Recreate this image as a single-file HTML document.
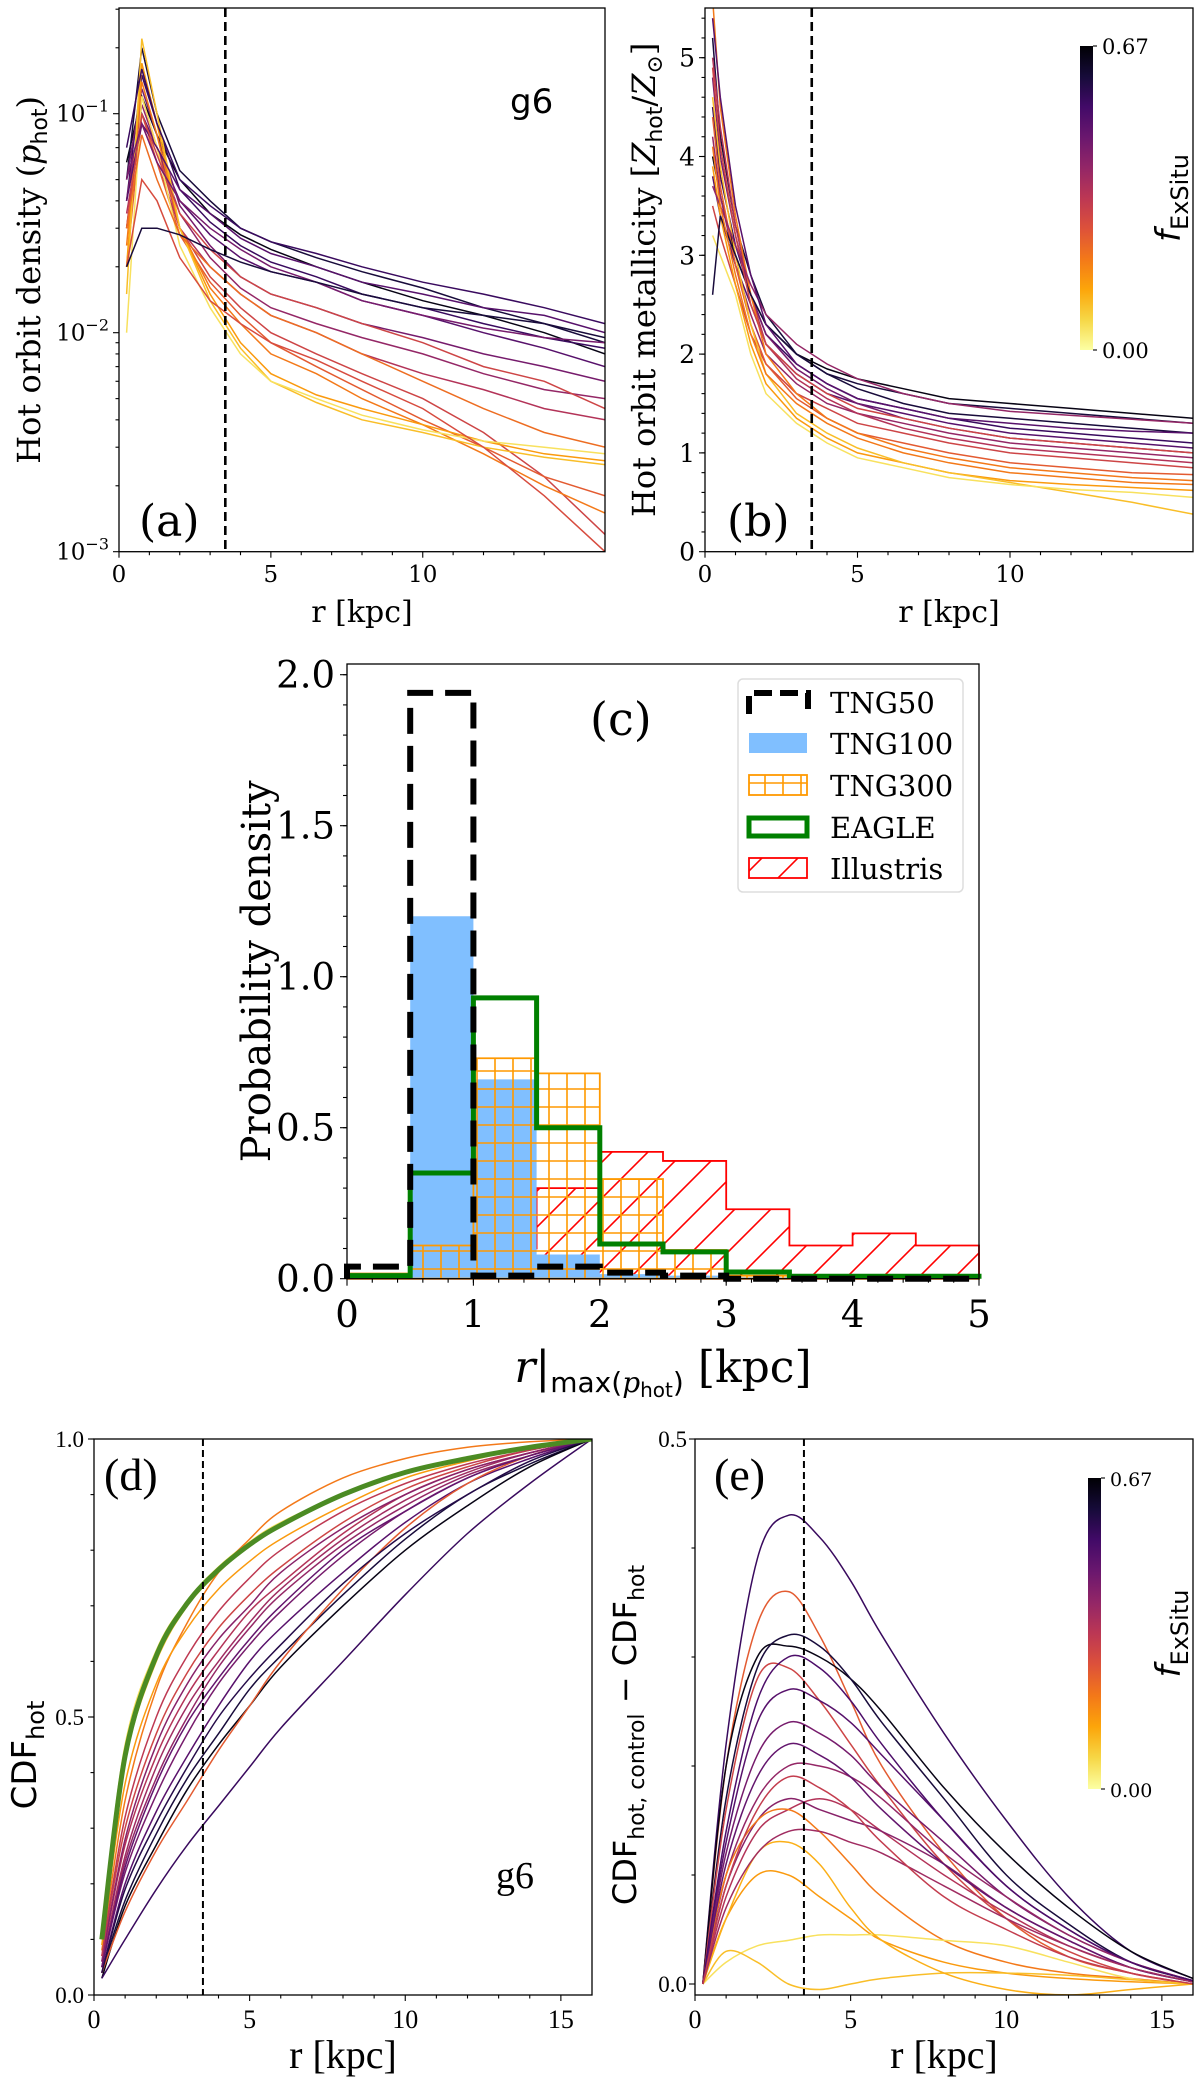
<!DOCTYPE html>
<html><head><meta charset="utf-8"><style>
html,body{margin:0;padding:0;background:#fff;}
svg{display:block;}
.serif{font-family:"DejaVu Serif","Liberation Serif",serif;}
.sans{font-family:"DejaVu Sans","Liberation Sans",sans-serif;}
.times{font-family:"Liberation Serif","DejaVu Serif",serif;}
</style></head><body>
<svg id="fig" xmlns="http://www.w3.org/2000/svg" width="1200" height="2078" viewBox="0 0 1200 2078">
<defs>
<linearGradient id="cbgrad" x1="0" y1="1" x2="0" y2="0">
<stop offset="0" stop-color="#fcffa4"/><stop offset="0.1" stop-color="#f6d746"/><stop offset="0.2" stop-color="#fca50a"/><stop offset="0.3" stop-color="#f37819"/><stop offset="0.4" stop-color="#dd513a"/><stop offset="0.5" stop-color="#bc3754"/><stop offset="0.6" stop-color="#932667"/><stop offset="0.7" stop-color="#6a176e"/><stop offset="0.8" stop-color="#420a68"/><stop offset="0.9" stop-color="#160b39"/><stop offset="1" stop-color="#000004"/>
</linearGradient>
<pattern id="gridHatch" patternUnits="userSpaceOnUse" width="18" height="18"><path d="M9 0V18M0 9H18" stroke="#ff9900" stroke-width="1.6"/></pattern>
<pattern id="slashHatch" patternUnits="userSpaceOnUse" width="36" height="36"><path d="M-9 45L45 -9M-9 9L9 -9M27 45L45 27" stroke="#ff0000" stroke-width="1.6"/></pattern>
<clipPath id="clipA"><rect x="119" y="8" width="486" height="544"/></clipPath>
<clipPath id="clipB"><rect x="705" y="8" width="488" height="544"/></clipPath>
<clipPath id="clipD"><rect x="94" y="1439" width="498" height="556"/></clipPath>
<clipPath id="clipE"><rect x="695" y="1439" width="498" height="556"/></clipPath>
</defs>
</svg>
<script>
// ---------- DATA ----------
const rA = [0.25,0.75,1.25,2,3,4,5,6.5,8,10,12,14,16];
const fA = [0.65,0.6,0.55,0.5,0.45,0.4,0.35,0.3,0.25,0.2,0.15,0.1,0.05,0.55,0.5,0.3,0.28,0.22,0.45,0.6];
const densA = [
[0.06,0.12,0.08,0.05,0.035,0.028,0.024,0.020,0.017,0.014,0.012,0.010,0.008],
[0.05,0.20,0.10,0.055,0.04,0.03,0.026,0.022,0.019,0.016,0.013,0.011,0.009],
[0.04,0.15,0.09,0.045,0.032,0.025,0.021,0.018,0.015,0.013,0.011,0.0095,0.0085],
[0.03,0.10,0.07,0.04,0.028,0.022,0.019,0.017,0.014,0.012,0.010,0.0085,0.007],
[0.05,0.13,0.08,0.038,0.025,0.018,0.015,0.013,0.011,0.0095,0.008,0.007,0.006],
[0.04,0.11,0.07,0.035,0.022,0.016,0.013,0.011,0.0095,0.008,0.0065,0.0055,0.005],
[0.035,0.09,0.06,0.03,0.02,0.015,0.012,0.01,0.008,0.0065,0.0055,0.0045,0.004],
[0.03,0.12,0.07,0.03,0.018,0.013,0.01,0.008,0.0065,0.005,0.0035,0.0022,0.0012],
[0.02,0.10,0.06,0.028,0.017,0.012,0.009,0.007,0.0055,0.004,0.003,0.0022,0.0018],
[0.025,0.14,0.08,0.03,0.016,0.011,0.008,0.0065,0.005,0.0038,0.0028,0.002,0.0015],
[0.02,0.17,0.09,0.03,0.015,0.009,0.0065,0.0052,0.0045,0.0038,0.0032,0.0028,0.0026],
[0.015,0.22,0.1,0.03,0.014,0.0085,0.006,0.0048,0.004,0.0035,0.003,0.0027,0.0025],
[0.01,0.12,0.07,0.025,0.013,0.008,0.006,0.005,0.0042,0.0036,0.0032,0.003,0.0028],
[0.07,0.16,0.09,0.05,0.038,0.03,0.026,0.023,0.02,0.017,0.015,0.013,0.011],
[0.04,0.09,0.07,0.045,0.035,0.027,0.023,0.02,0.017,0.015,0.013,0.012,0.01],
[0.03,0.1,0.065,0.035,0.024,0.018,0.015,0.013,0.011,0.009,0.007,0.006,0.0045],
[0.02,0.05,0.04,0.022,0.014,0.011,0.009,0.0075,0.006,0.0045,0.003,0.0018,0.001],
[0.03,0.08,0.05,0.028,0.02,0.015,0.012,0.01,0.008,0.006,0.0045,0.0035,0.003],
[0.05,0.09,0.06,0.04,0.03,0.024,0.02,0.017,0.014,0.012,0.0105,0.0095,0.009],
[0.02,0.03,0.03,0.028,0.024,0.021,0.019,0.017,0.015,0.013,0.012,0.011,0.0095]
];
const ticksA = ["10","10","10"];
const rB = [0.25,0.5,1,1.5,2,3,4,5,6.5,8,10,12,14,16];
const fB = [0.65,0.6,0.55,0.5,0.45,0.4,0.35,0.3,0.25,0.2,0.15,0.1,0.05,0.6,0.3,0.4,0.2,0.5];
const metB = [
[4.0,3.6,3.0,2.6,2.3,2.0,1.85,1.75,1.65,1.55,1.5,1.45,1.4,1.35],
[5.2,4.2,3.3,2.8,2.4,2.0,1.8,1.65,1.5,1.4,1.35,1.3,1.25,1.2],
[4.5,3.8,3.1,2.6,2.2,1.9,1.7,1.55,1.45,1.35,1.25,1.2,1.15,1.1],
[3.8,3.4,2.9,2.5,2.1,1.8,1.6,1.5,1.4,1.3,1.2,1.15,1.1,1.05],
[4.8,4.0,3.2,2.6,2.2,1.85,1.65,1.5,1.35,1.25,1.15,1.1,1.05,1.0],
[4.2,3.6,2.9,2.4,2.0,1.7,1.5,1.4,1.3,1.2,1.1,1.05,1.0,0.95],
[5.0,4.3,3.3,2.6,2.1,1.75,1.55,1.4,1.25,1.15,1.05,1.0,0.95,0.9],
[3.5,3.2,2.7,2.2,1.9,1.6,1.45,1.3,1.2,1.1,1.0,0.95,0.9,0.85],
[4.4,3.7,2.9,2.3,1.9,1.55,1.35,1.2,1.1,1.0,0.9,0.85,0.8,0.78],
[5.6,4.5,3.4,2.6,2.0,1.6,1.35,1.2,1.05,0.95,0.85,0.8,0.75,0.72],
[3.9,3.4,2.7,2.1,1.7,1.35,1.15,1.0,0.9,0.8,0.72,0.68,0.65,0.62],
[4.6,3.9,3.0,2.3,1.8,1.4,1.2,1.05,0.9,0.8,0.7,0.6,0.5,0.38],
[3.2,3.0,2.6,2.0,1.6,1.3,1.1,0.95,0.85,0.75,0.68,0.63,0.6,0.55],
[2.6,3.4,3.0,2.6,2.3,2.0,1.8,1.7,1.6,1.5,1.45,1.4,1.35,1.3],
[4.9,4.1,3.2,2.5,2.1,1.8,1.6,1.45,1.35,1.25,1.15,1.1,1.05,1.0],
[3.7,3.5,3.1,2.7,2.4,2.1,1.9,1.75,1.6,1.5,1.42,1.38,1.34,1.3],
[4.1,3.5,2.8,2.2,1.8,1.5,1.3,1.15,1.0,0.9,0.8,0.75,0.7,0.68],
[5.4,4.6,3.5,2.8,2.3,1.9,1.7,1.55,1.45,1.35,1.3,1.25,1.22,1.2]
];
const binEdges = [0,0.5,1,1.5,2,2.5,3,3.5,4,4.5,5];
const tng50 = [0.04,1.94,0.01,0.04,0.02,0.01,0,0,0,0];
const tng100 = [0.02,1.20,0.66,0.08,0.015,0.01,0.005,0.005,0.005,0.005];
const tng300 = [0.017,0.11,0.73,0.68,0.33,0.095,0.01,0.01,0.01,0.01];
const eagle = [0.01,0.35,0.93,0.50,0.115,0.089,0.022,0.008,0.008,0.008];
const illustris = [0,0,0.10,0.30,0.42,0.39,0.23,0.11,0.15,0.11];
const legendLabels = ["TNG50","TNG100","TNG300","EAGLE","Illustris"];
const rD = [0.25,1,2,3,4,5,6,8,10,12,14,16];
const fD = [0.05,0.1,0.2,0.15,0.3,0.35,0.4,0.45,0.5,0.6,0.65,0.55,0.25,0.38,0.42,0.48,0.33,0.58];
const cdfD = [
[0.12,0.45,0.62,0.71,0.77,0.815,0.85,0.9,0.94,0.965,0.985,1],
[0.1,0.42,0.6,0.7,0.76,0.81,0.845,0.9,0.94,0.965,0.985,1],
[0.08,0.35,0.55,0.67,0.76,0.82,0.87,0.93,0.965,0.985,0.995,1],
[0.09,0.38,0.56,0.66,0.73,0.78,0.82,0.88,0.93,0.96,0.985,1],
[0.07,0.3,0.47,0.58,0.66,0.72,0.77,0.85,0.91,0.95,0.98,1],
[0.06,0.27,0.43,0.54,0.62,0.69,0.74,0.83,0.9,0.945,0.975,1],
[0.05,0.24,0.39,0.5,0.59,0.66,0.72,0.81,0.88,0.935,0.97,1],
[0.05,0.22,0.36,0.47,0.56,0.63,0.69,0.79,0.87,0.93,0.97,1],
[0.04,0.2,0.33,0.43,0.52,0.6,0.66,0.76,0.85,0.92,0.965,1],
[0.04,0.17,0.29,0.39,0.47,0.55,0.61,0.72,0.82,0.9,0.955,1],
[0.03,0.16,0.27,0.37,0.45,0.52,0.59,0.7,0.8,0.88,0.95,1],
[0.03,0.1,0.19,0.27,0.34,0.41,0.48,0.6,0.72,0.83,0.92,1],
[0.04,0.15,0.26,0.35,0.44,0.52,0.6,0.73,0.84,0.92,0.97,1],
[0.05,0.25,0.41,0.52,0.6,0.67,0.73,0.82,0.89,0.94,0.975,1],
[0.06,0.28,0.45,0.56,0.64,0.7,0.76,0.84,0.9,0.945,0.975,1],
[0.05,0.23,0.38,0.49,0.57,0.64,0.7,0.8,0.87,0.93,0.97,1],
[0.07,0.32,0.5,0.61,0.69,0.75,0.8,0.87,0.92,0.955,0.98,1],
[0.04,0.19,0.31,0.41,0.5,0.57,0.63,0.74,0.83,0.9,0.96,1]
];
const cdfControl = [0.1,0.43,0.61,0.705,0.765,0.81,0.845,0.9,0.94,0.965,0.985,1];
const rE = [0.25,1,2,3,4,5,6,8,10,12,14,16];
const fE = [0.55,0.25,0.65,0.6,0.3,0.5,0.45,0.4,0.35,0.42,0.2,0.15,0.05,0.1,0.12,0.48,0.38,0.52,0.32];
const diffE = [
[0,0.22,0.39,0.43,0.41,0.37,0.32,0.23,0.15,0.08,0.03,0.005],
[0,0.2,0.33,0.36,0.32,0.26,0.2,0.12,0.06,0.025,0.01,0],
[0,0.2,0.3,0.31,0.3,0.28,0.25,0.18,0.12,0.07,0.03,0.005],
[0,0.17,0.29,0.32,0.31,0.28,0.24,0.17,0.1,0.055,0.02,0.003],
[0,0.16,0.28,0.29,0.26,0.22,0.18,0.11,0.06,0.03,0.01,0],
[0,0.13,0.24,0.27,0.26,0.24,0.21,0.15,0.09,0.05,0.02,0.003],
[0,0.12,0.21,0.24,0.23,0.21,0.18,0.13,0.08,0.045,0.02,0.003],
[0,0.1,0.17,0.2,0.2,0.19,0.17,0.12,0.08,0.045,0.02,0.003],
[0,0.08,0.14,0.16,0.17,0.16,0.14,0.1,0.065,0.035,0.015,0.002],
[0,0.09,0.15,0.17,0.16,0.15,0.14,0.11,0.07,0.04,0.015,0.002],
[0,0.1,0.15,0.16,0.14,0.11,0.08,0.04,0.02,0.01,0.005,0],
[0,0.06,0.1,0.1,0.08,0.06,0.04,0.02,0.01,0.005,0.002,0],
[0,0.02,0.035,0.04,0.045,0.045,0.045,0.04,0.035,0.02,0.005,0],
[0,0.03,0.02,0.0,-0.005,0.0,0.005,0.01,0.01,0.008,0.004,0],
[0,0.06,0.12,0.13,0.11,0.07,0.04,0.01,-0.005,-0.01,-0.005,0],
[0,0.11,0.19,0.22,0.21,0.19,0.16,0.11,0.07,0.04,0.015,0.002],
[0,0.07,0.12,0.14,0.14,0.13,0.12,0.09,0.06,0.035,0.015,0.002],
[0,0.14,0.26,0.3,0.29,0.26,0.22,0.15,0.09,0.05,0.02,0.003],
[0,0.09,0.16,0.19,0.18,0.16,0.13,0.08,0.05,0.025,0.01,0]
];
const fMax = 0.67;

// ---------- HELPERS ----------
const NS="http://www.w3.org/2000/svg";
const svg=document.getElementById('fig');
function mk(tag,attrs,parent,text){const e=document.createElementNS(NS,tag);for(const k in attrs)e.setAttribute(k,attrs[k]);if(text!==undefined)e.textContent=text;(parent||svg).appendChild(e);return e;}
const inf=[[0,0,4],[22,11,57],[66,10,104],[106,23,110],[147,38,103],[188,55,84],[221,81,58],[243,120,25],[252,165,10],[246,215,70],[252,255,164]];
function inferno(t){t=Math.max(0,Math.min(1,t));const s=t*10,i=Math.min(9,Math.floor(s)),u=s-i;const a=inf[i],b=inf[i+1];return`rgb(${Math.round(a[0]+(b[0]-a[0])*u)},${Math.round(a[1]+(b[1]-a[1])*u)},${Math.round(a[2]+(b[2]-a[2])*u)})`;}
function col(f){return inferno(1-f/fMax);}
function smoothPath(pts){let d=`M${pts[0][0].toFixed(1)},${pts[0][1].toFixed(1)}`;for(let i=0;i<pts.length-1;i++){const p0=pts[Math.max(0,i-1)],p1=pts[i],p2=pts[i+1],p3=pts[Math.min(pts.length-1,i+2)];const c1=[p1[0]+(p2[0]-p0[0])/6,p1[1]+(p2[1]-p0[1])/6],c2=[p2[0]-(p3[0]-p1[0])/6,p2[1]-(p3[1]-p1[1])/6];d+=`C${c1[0].toFixed(1)},${c1[1].toFixed(1)} ${c2[0].toFixed(1)},${c2[1].toFixed(1)} ${p2[0].toFixed(1)},${p2[1].toFixed(1)}`;}return d;}
function linePath(pts){return pts.map((p,i)=>(i?'L':'M')+p[0].toFixed(1)+','+p[1].toFixed(1)).join('');}
function frame(g,x0,y0,x1,y1){const r=mk('rect',{x:x0,y:y0,width:x1-x0,height:y1-y0,fill:'none',stroke:'#000','stroke-width':1.3},g);}
function tick(g,x1,y1,x2,y2){mk('line',{x1,y1,x2,y2,stroke:'#000','stroke-width':1.1},g);}

// ---------- PANEL A ----------
const axA={x0:119,x1:605,top:8,bot:551.7,dec:219};
const xA=r=>axA.x0+r*(axA.x1-axA.x0)/16;
const yA=v=>axA.bot-(Math.log10(v)+3)*axA.dec;
const gA=mk('g',{});
const gAl=mk('g',{'clip-path':'url(#clipA)'},gA);
densA.forEach((row,i)=>{const p=mk('path',{d:linePath(row.map((v,j)=>[xA(rA[j]),yA(v)])),fill:'none',stroke:col(fA[i]),'stroke-width':1.5},gAl);});
mk('line',{x1:xA(3.5),y1:axA.top,x2:xA(3.5),y2:axA.bot,stroke:'#000','stroke-width':2.6,'stroke-dasharray':'9,5'},gA);
frame(gA,axA.x0,axA.top,axA.x1,axA.bot);
[-3,-2,-1].forEach((e,i)=>{const y=yA(Math.pow(10,e));tick(gA,axA.x0-6,y,axA.x0,y);const t=mk('text',{x:axA.x0-10,y:y+8,'text-anchor':'end','font-size':23,class:'serif'},gA);mk('tspan',{},t,ticksA[i]);mk('tspan',{dy:-10,'font-size':16},t,'−'+(-e));});
for(let e=-3;e<0;e++)for(let m=2;m<10;m++){const y=yA(m*Math.pow(10,e));if(y>=axA.top)tick(gA,axA.x0-3.5,y,axA.x0,y);}
[0,5,10].forEach(v=>{tick(gA,xA(v),axA.bot,xA(v),axA.bot+6);const t=mk('text',{x:xA(v),y:582,'text-anchor':'middle','font-size':23,class:'serif'},gA,String(v));});
for(let v=1;v<16;v++)if(v%5)tick(gA,xA(v),axA.bot,xA(v),axA.bot+3.5);
let t;
t=mk('text',{x:xA(8),y:622,'text-anchor':'middle','font-size':30,class:'serif'},gA,'r [kpc]');
t=mk('text',{x:0,y:0,'text-anchor':'middle','font-size':32,class:'serif',transform:`translate(40,${(axA.top+axA.bot)/2}) rotate(-90)`},gA);
mk('tspan',{},t,'Hot orbit density (');mk('tspan',{'font-style':'italic'},t,'p');mk('tspan',{dy:7,'font-size':22,class:'sans'},t,'hot');mk('tspan',{dy:-7},t,')');
t=mk('text',{x:139,y:536,'font-size':44,class:'serif'},gA,'(a)');
t=mk('text',{x:510,y:113,'font-size':34,class:'sans'},gA,'g6');

// ---------- PANEL B ----------
const axB={x0:705,x1:1193,top:8,bot:551.7,pu:98.8};
const xB=r=>axB.x0+r*(axB.x1-axB.x0)/16;
const yB=v=>axB.bot-v*axB.pu;
const gB=mk('g',{});
const gBl=mk('g',{'clip-path':'url(#clipB)'},gB);
metB.forEach((row,i)=>{const p=mk('path',{d:linePath(row.map((v,j)=>[xB(rB[j]),yB(v)])),fill:'none',stroke:col(fB[i]),'stroke-width':1.5},gBl);});
mk('line',{x1:xB(3.5),y1:axB.top,x2:xB(3.5),y2:axB.bot,stroke:'#000','stroke-width':2.6,'stroke-dasharray':'9,5'},gB);
frame(gB,axB.x0,axB.top,axB.x1,axB.bot);
[0,1,2,3,4,5].forEach(v=>{tick(gB,axB.x0-6,yB(v),axB.x0,yB(v));const t=mk('text',{x:axB.x0-10,y:yB(v)+9,'text-anchor':'end','font-size':25,class:'serif'},gB,String(v));});
for(let v=0.2;v<5.5;v+=0.2)tick(gB,axB.x0-3.5,yB(v),axB.x0,yB(v));
[0,5,10].forEach(v=>{tick(gB,xB(v),axB.bot,xB(v),axB.bot+6);const t=mk('text',{x:xB(v),y:582,'text-anchor':'middle','font-size':23,class:'serif'},gB,String(v));});
for(let v=1;v<16;v++)if(v%5)tick(gB,xB(v),axB.bot,xB(v),axB.bot+3.5);
t=mk('text',{x:xB(8),y:622,'text-anchor':'middle','font-size':30,class:'serif'},gB,'r [kpc]');
t=mk('text',{x:0,y:0,'text-anchor':'middle','font-size':32,class:'serif',transform:`translate(655,${(axB.top+axB.bot)/2}) rotate(-90)`},gB);
mk('tspan',{},t,'Hot orbit metallicity [');mk('tspan',{'font-style':'italic'},t,'Z');mk('tspan',{dy:7,'font-size':22,class:'sans'},t,'hot');mk('tspan',{dy:-7},t,'/');mk('tspan',{'font-style':'italic'},t,'Z');mk('tspan',{dy:7,'font-size':22},t,'⊙');mk('tspan',{dy:-7},t,']');
t=mk('text',{x:727,y:536,'font-size':44,class:'serif'},gB,'(b)');
function colorbar(g,x,y0,y1,lblX,fs){const r=mk('rect',{x,y:y0,width:13,height:y1-y0,fill:'url(#cbgrad)',stroke:'none'},g);
tick(g,x+13,y0,x+17,y0);tick(g,x+13,y1,x+17,y1);
let t=mk('text',{x:x+22,y:y0+8,'font-size':fs,class:'serif'},g,'0.67');
t=mk('text',{x:x+22,y:y1+8,'font-size':fs,class:'serif'},g,'0.00');
t=mk('text',{x:0,y:0,'text-anchor':'middle','font-size':34,class:'sans',transform:`translate(${lblX},${(y0+y1)/2}) rotate(-90)`},g);
mk('tspan',{'font-style':'italic'},t,'f');mk('tspan',{dy:8,'font-size':24},t,'ExSitu');}
colorbar(gB,1080,46,350,1180,21);

// ---------- PANEL C ----------
const axC={x0:347,x1:979,top:664,bot:1278.7,pu:302};
const xC=v=>axC.x0+v*(axC.x1-axC.x0)/5;
const yC=v=>axC.bot-v*axC.pu;
const gC=mk('g',{});
function stepPath(vals,close){let d=`M${xC(binEdges[0])},${yC(0)}`;vals.forEach((v,i)=>{d+=`L${xC(binEdges[i])},${yC(v)}L${xC(binEdges[i+1])},${yC(v)}`;});d+=`L${xC(binEdges[vals.length])},${yC(0)}`;if(close)d+='Z';return d;}
let h;
h=mk('path',{d:stepPath(illustris,true),fill:'url(#slashHatch)',stroke:'#ff0000','stroke-width':1.8},gC);
h=mk('path',{d:stepPath(tng100,true),fill:'#80bfff',stroke:'none'},gC);
h=mk('path',{d:stepPath(tng300,true),fill:'url(#gridHatch)',stroke:'#ff9900','stroke-width':1.8},gC);
h=mk('path',{d:stepPath(eagle,false),fill:'none',stroke:'#008000','stroke-width':5},gC);
h=mk('path',{d:stepPath(tng50,false),fill:'none',stroke:'#000','stroke-width':6,'stroke-dasharray':'26,12'},gC);
frame(gC,axC.x0,axC.top,axC.x1,axC.bot);
[0,0.5,1,1.5,2].forEach(v=>{tick(gC,axC.x0-7,yC(v),axC.x0,yC(v));const t=mk('text',{x:axC.x0-12,y:yC(v)+13,'text-anchor':'end','font-size':37,class:'serif'},gC,v.toFixed(1));});
for(let v=0.1;v<2.03;v+=0.1)tick(gC,axC.x0-4,yC(v),axC.x0,yC(v));
[0,1,2,3,4,5].forEach(v=>{tick(gC,xC(v),axC.bot,xC(v),axC.bot+7);const t=mk('text',{x:xC(v),y:1327,'text-anchor':'middle','font-size':37,class:'serif'},gC,String(v));});
for(let v=0.2;v<5;v+=0.2)tick(gC,xC(v),axC.bot,xC(v),axC.bot+4);
t=mk('text',{x:0,y:0,'text-anchor':'middle','font-size':40,class:'serif',transform:`translate(270,${(axC.top+axC.bot)/2}) rotate(-90)`},gC,'Probability density');
t=mk('text',{x:(axC.x0+axC.x1)/2,y:1382,'text-anchor':'middle','font-size':44,class:'serif'},gC);
mk('tspan',{'font-style':'italic'},t,'r');mk('tspan',{},t,'|');mk('tspan',{dy:10,'font-size':28,class:'sans'},t,'max(');mk('tspan',{'font-size':28,'font-style':'italic'},t,'p');mk('tspan',{dy:5,'font-size':20,class:'sans'},t,'hot');mk('tspan',{dy:-5,'font-size':28,class:'sans'},t,')');mk('tspan',{dy:-10},t,' [kpc]');
t=mk('text',{x:590,y:735,'font-size':46,class:'serif'},gC,'(c)');
const gL=mk('g',{},gC);
mk('rect',{x:738,y:679,width:225,height:213,rx:5,fill:'#fff',stroke:'#ddd','stroke-width':1.5},gL);
const legY=[702,743,785,827,868];
legendLabels.forEach((lab,i)=>{const y=legY[i];let s;
 if(i===0)s=mk('path',{d:`M749,${y+12}V${y-9}H808V${y+12}`,fill:'none',stroke:'#000','stroke-width':6,'stroke-dasharray':'18,8'},gL);
 if(i===1)s=mk('rect',{x:749,y:y-10,width:58,height:20,fill:'#80bfff'},gL);
 if(i===2)s=mk('rect',{x:749,y:y-10,width:58,height:20,fill:'url(#gridHatch)',stroke:'#ff9900','stroke-width':1.8},gL);
 if(i===3)s=mk('rect',{x:749,y:y-9,width:58,height:18,fill:'none',stroke:'#008000','stroke-width':5},gL);
 if(i===4)s=mk('rect',{x:749,y:y-10,width:58,height:20,fill:'url(#slashHatch)',stroke:'#ff0000','stroke-width':1.8},gL);
 
 const tt=mk('text',{x:830,y:y+11,'font-size':29,class:'serif'},gL,lab);});

// ---------- PANEL D ----------
const axD={x0:94,x1:592,top:1439,bot:1995,pu:556};
const xD=r=>axD.x0+r*(axD.x1-axD.x0)/16;
const yD=v=>axD.bot-v*axD.pu;
const gD=mk('g',{});
const gDl=mk('g',{'clip-path':'url(#clipD)'},gD);
cdfD.forEach((row,i)=>{const p=mk('path',{d:smoothPath(row.map((v,j)=>[xD(rD[j]),yD(v)])),fill:'none',stroke:col(fD[i]),'stroke-width':1.5},gDl);});
let pc=mk('path',{d:smoothPath(cdfControl.map((v,j)=>[xD(rD[j]),yD(v)])),fill:'none',stroke:'#4b8b23','stroke-width':5},gDl);
mk('line',{x1:xD(3.5),y1:axD.top,x2:xD(3.5),y2:axD.bot,stroke:'#000','stroke-width':2,'stroke-dasharray':'7,4'},gD);
frame(gD,axD.x0,axD.top,axD.x1,axD.bot);
[0,0.5,1].forEach(v=>{tick(gD,axD.x0-6,yD(v),axD.x0,yD(v));const t=mk('text',{x:axD.x0-10,y:yD(v)+8,'text-anchor':'end','font-size':23,class:'times'},gD,v.toFixed(1));});
for(let v=0.1;v<1;v+=0.1)tick(gD,axD.x0-3.5,yD(v),axD.x0,yD(v));
[0,5,10,15].forEach(v=>{tick(gD,xD(v),axD.bot,xD(v),axD.bot+6);const t=mk('text',{x:xD(v),y:2028,'text-anchor':'middle','font-size':26,class:'times'},gD,String(v));});
for(let v=1;v<16;v++)if(v%5)tick(gD,xD(v),axD.bot,xD(v),axD.bot+3.5);
t=mk('text',{x:xD(8),y:2068,'text-anchor':'middle','font-size':40,class:'times'},gD,'r [kpc]');
t=mk('text',{x:0,y:0,'text-anchor':'middle','font-size':34,class:'sans',transform:`translate(36,1755) rotate(-90)`},gD);
mk('tspan',{},t,'CDF');mk('tspan',{dy:8,'font-size':24},t,'hot');
t=mk('text',{x:104,y:1490,'font-size':46,class:'times'},gD,'(d)');
t=mk('text',{x:496,y:1888,'font-size':38,class:'times'},gD,'g6');

// ---------- PANEL E ----------
const axE={x0:695,x1:1193,top:1439,bot:1995,zero:1984,pu:1090};
const xE=r=>axE.x0+r*(axE.x1-axE.x0)/16;
const yE=v=>axE.zero-v*axE.pu;
const gE=mk('g',{});
const gEl=mk('g',{'clip-path':'url(#clipE)'},gE);
diffE.forEach((row,i)=>{const p=mk('path',{d:smoothPath(row.map((v,j)=>[xE(rE[j]),yE(v)])),fill:'none',stroke:col(fE[i]),'stroke-width':1.5},gEl);});
mk('line',{x1:xE(3.5),y1:axE.top,x2:xE(3.5),y2:axE.bot,stroke:'#000','stroke-width':2,'stroke-dasharray':'7,4'},gE);
frame(gE,axE.x0,axE.top,axE.x1,axE.bot);
[0,0.5].forEach(v=>{tick(gE,axE.x0-6,yE(v),axE.x0,yE(v));const t=mk('text',{x:axE.x0-8,y:yE(v)+8,'text-anchor':'end','font-size':23,class:'times'},gE,v.toFixed(1));});
for(let v=0.1;v<0.5;v+=0.1)tick(gE,axE.x0-3.5,yE(v),axE.x0,yE(v));
[0,5,10,15].forEach(v=>{tick(gE,xE(v),axE.bot,xE(v),axE.bot+6);const t=mk('text',{x:xE(v),y:2028,'text-anchor':'middle','font-size':26,class:'times'},gE,String(v));});
for(let v=1;v<16;v++)if(v%5)tick(gE,xE(v),axE.bot,xE(v),axE.bot+3.5);
t=mk('text',{x:xE(8),y:2068,'text-anchor':'middle','font-size':40,class:'times'},gE,'r [kpc]');
t=mk('text',{x:0,y:0,'text-anchor':'middle','font-size':32,class:'sans',transform:`translate(636,1735) rotate(-90)`},gE);
mk('tspan',{},t,'CDF');mk('tspan',{dy:8,'font-size':22},t,'hot, control');mk('tspan',{dy:-8},t,' − CDF');mk('tspan',{dy:8,'font-size':22},t,'hot');
t=mk('text',{x:714,y:1490,'font-size':46,class:'times'},gE,'(e)');
colorbar(gE,1088,1478,1789,1180,19);
</script>
</body></html>
